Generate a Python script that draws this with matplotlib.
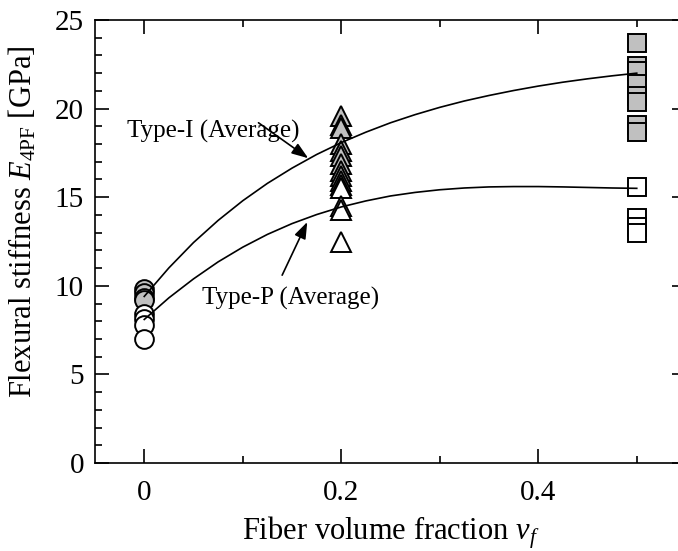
import numpy as np
import matplotlib
matplotlib.use("Agg")
import matplotlib.pyplot as plt
from matplotlib.ticker import MultipleLocator

plt.rcParams['font.family'] = ['Liberation Serif', 'DejaVu Serif']
plt.rcParams['mathtext.fontset'] = 'custom'
plt.rcParams['mathtext.rm'] = 'Liberation Serif'
plt.rcParams['mathtext.it'] = 'Liberation Serif:italic'

# measured E4PF values [GPa] at each fiber volume fraction
typeI_v0 = [9.8, 9.6, 9.3, 9.2]
typeP_v0 = [8.4, 8.1, 7.8, 7.0]
typeI_v02 = [19.6, 19.1, 18.9, 18.0, 17.6, 17.3, 16.9, 16.5, 16.2, 15.9]
typeP_v02 = [15.7, 15.5, 14.5, 14.3, 12.5]
typeI_v05 = [23.7, 22.4, 22.1, 21.4, 20.7, 20.4, 19.1, 18.7]
typeP_v05 = [15.6, 13.8, 13.3, 13.0]

# average curves
curve_x = [0, 0.025, 0.05, 0.075, 0.1, 0.125, 0.15, 0.175, 0.2, 0.225, 0.25,
           0.275, 0.3, 0.325, 0.35, 0.375, 0.4, 0.425, 0.45, 0.475, 0.5]
curve_I = [9.40, 11.01, 12.44, 13.69, 14.80, 15.78, 16.64, 17.41, 18.08, 18.67, 19.20,
           19.66, 20.07, 20.43, 20.74, 21.02, 21.27, 21.49, 21.68, 21.85, 22.00]
curve_P = [8.10, 9.32, 10.39, 11.35, 12.18, 12.90, 13.51, 14.02, 14.45, 14.79, 15.07,
           15.27, 15.42, 15.52, 15.58, 15.60, 15.60, 15.58, 15.55, 15.52, 15.50]

gray = '#c0c0c0'

fig = plt.figure(figsize=(6.78, 5.51), dpi=100)
ax = fig.add_axes([95/678, 88/551, 591/678, 443/551])

def draw(xv, vals, marker, fc, ms):
    for v in vals:
        ax.plot([xv], [v], marker=marker, ms=ms, mfc=fc, mec='k', mew=1.4,
                ls='none', zorder=3)

draw(0, typeI_v0, 'o', gray, 13.5)
draw(0, typeP_v0, 'o', 'white', 13.5)
draw(0.2, typeI_v02, '^', gray, 15)
draw(0.2, typeP_v02, '^', 'white', 15)
draw(0.5, typeI_v05, 's', gray, 13.5)
draw(0.5, typeP_v05, 's', 'white', 13.5)

ax.plot(curve_x, curve_I, color='k', lw=1.2, zorder=4)
ax.plot(curve_x, curve_P, color='k', lw=1.2, zorder=4)

aprops = dict(arrowstyle='-|>,head_length=0.5,head_width=0.18', mutation_scale=20,
              lw=1.2, color='k', shrinkA=0, shrinkB=0)
ax.annotate('', xy=(0.1665, 17.2), xytext=(0.116, 19.2), arrowprops=aprops, zorder=5)
ax.annotate('', xy=(0.1655, 13.6), xytext=(0.140, 10.6), arrowprops=aprops, zorder=5)
ax.text(-0.018, 18.7, 'Type-I (Average)', fontsize=18, ha='left', va='center')
ax.text(0.059, 9.3, 'Type-P (Average)', fontsize=18, ha='left', va='center')

ax.set_xlim(-0.05, 0.55)
ax.set_ylim(0, 25)
ax.set_xticks([0, 0.2, 0.4])
ax.set_xticklabels(['0', '0.2', '0.4'])
ax.xaxis.set_minor_locator(MultipleLocator(0.1))
ax.yaxis.set_major_locator(MultipleLocator(5))
ax.yaxis.set_minor_locator(MultipleLocator(1))
ax.tick_params(which='both', direction='in', top=True, right=True, width=1.2,
               labelsize=21)
ax.tick_params(axis='x', pad=12)
ax.tick_params(axis='y', pad=8)
ax.tick_params(which='major', length=10)
ax.tick_params(which='minor', length=5)
for s in ax.spines.values():
    s.set_linewidth(1.2)

ax.set_xlabel('Fiber volume fraction $v_f$', fontsize=22)
ax.set_ylabel('Flexural stiffness $E_{\\mathrm{4PF}}$ [GPa]', fontsize=22)
ax.xaxis.set_label_coords(0.5, -0.115)
ax.yaxis.set_label_coords(-0.095, 0.544)

fig.savefig('out.png', dpi=100)
